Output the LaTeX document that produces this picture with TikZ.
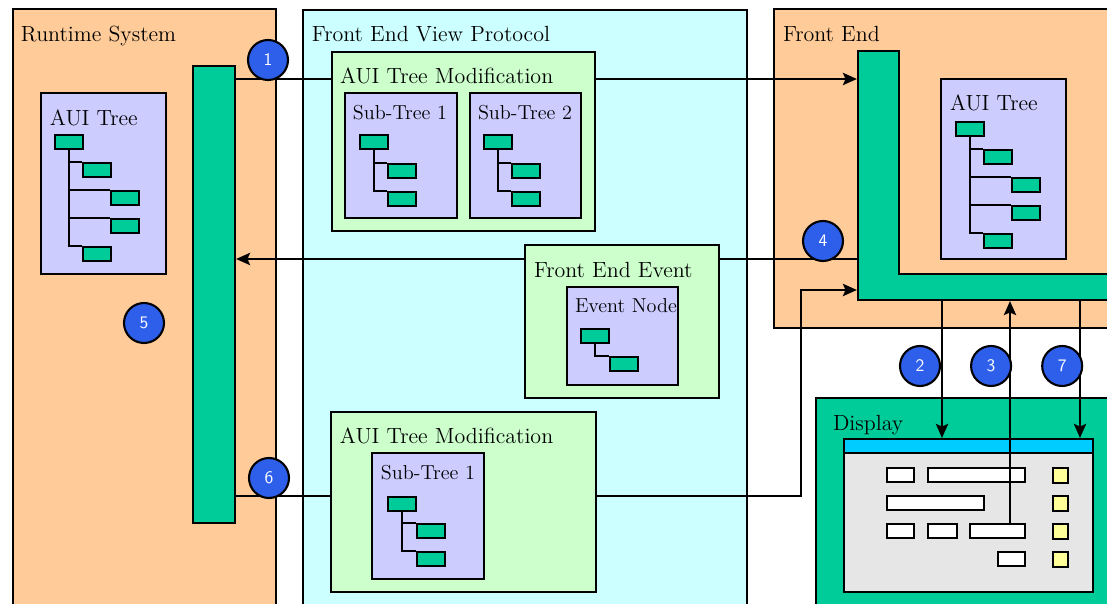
\documentclass[tikz,border=0pt]{standalone}
\usepackage{tikz}
\usetikzlibrary{calc}
\usetikzlibrary{positioning}
\usetikzlibrary{fit}
\usetikzlibrary{arrows.meta}

\definecolor{peach}{RGB}{255,204,153}
\definecolor{protocyan}{RGB}{204,255,255}
\definecolor{modgreen}{RGB}{204,255,204}
\definecolor{lavender}{RGB}{204,204,255}
\definecolor{busgreen}{RGB}{0,204,153}
\definecolor{badgeblue}{RGB}{45,95,235}
\definecolor{titlecyan}{RGB}{0,204,255}
\definecolor{wingray}{RGB}{230,230,230}
\definecolor{lightyellow}{RGB}{255,255,153}

\def\thickness{very thick}
\def\px{0.02cm}
\tikzset{
panel/.style={draw, inner sep=0pt, fill=#1},
title/.style={inner sep=0pt, font=\fontsize{12.5}{14}\selectfont},
subtitle/.style={inner sep=0pt, font=\fontsize{11.5}{13}\selectfont},
leaf/.style={draw, fill=busgreen, inner sep=0pt, anchor=north west,
	minimum width=0.56cm, minimum height=0.28cm},
widget/.style={draw, fill=white, inner sep=0pt, anchor=north west,
	minimum height=0.28cm, minimum width=#1*\px},
badge/.style={circle, draw, fill=badgeblue, inner sep=0pt, minimum size=0.8cm,
	text=white, font=\sffamily\fontsize{10}{12}\selectfont},
>={Stealth[length=8pt,width=7pt,inset=1.5pt]},
}

% #1 name, #2 root corner, #3 child offsets
\newcommand{\auitree}[3]{
	\node[leaf] (#1) at #2 {};
	\foreach \dx/\dy [count=\leafno] in {#3} {
		\node[leaf] (#1-\leafno) at ($#2+(\dx,\dy)$) {};
		\draw (#1.south) |- (#1-\leafno.north west);
	}
}

\begin{document}
\begin{tikzpicture}[x=\px, y=-\px, \thickness]
\useasboundingbox (0,0) rectangle (1107,604);
\clip (0,0) rectangle (1107,604);

%
\node[panel=peach, fit={(13,9) (276,620)}] (rts) {};
\node[panel=protocyan, fit={(303,10) (747,620)}] (fevp) {};
\node[panel=peach, fit={(774,9) (1120,328)}] (fe) {};
\node[panel=busgreen, fit={(816,398) (1120,620)}] (disp) {};

\node[title, below right=0.34cm and 0.16cm of rts.north west] {Runtime System};
\node[title, below right=0.32cm and 0.18cm of fevp.north west] {Front End View Protocol};
\node[title, below right=0.34cm and 0.18cm of fe.north west] {Front End};
\node[title, below right=0.34cm and 0.34cm of disp.north west] {Display};

%
\node[panel=busgreen, fit={(193,66) (235,523)}] (rbar) {};
\node[inner sep=0pt, fit={(858,51) (899,300)}] (fev) {};
\node[inner sep=0pt, fit={(858,274) (1120,300)}] (feh) {};
\draw[fill=busgreen] (858,51) -- (899,51) -- (899,274) -- (1120,274)
	-- (1120,300) -- (858,300) -- cycle;

%
\node[panel=lavender, fit={(41,93) (166,274)}] (treeL) {};
\node[title, below right=0.34cm and 0.18cm of treeL.north west] {AUI Tree};
\auitree{lt}{(54,134)}{28/28, 56/56, 56/84, 28/112}

\node[panel=lavender, fit={(941,79) (1066,259)}] (treeR) {};
\node[title, below right=0.32cm and 0.18cm of treeR.north west] {AUI Tree};
\auitree{rt}{(955,121)}{28/28, 56/56, 56/84, 28/112}

%
\node[panel=modgreen, fit={(332,52) (595,231)}] (modA) {};
\node[title, below right=0.32cm and 0.16cm of modA.north west] {AUI Tree Modification};
\node[panel=lavender, fit={(345,93) (457,218)}] (subA) {};
\node[subtitle, below right=0.25cm and 0.16cm of subA.north west] {Sub-Tree 1};
\auitree{sa}{(359,134)}{28/29, 28/57}
\node[panel=lavender, fit={(470,93) (581,218)}] (subB) {};
\node[subtitle, below right=0.25cm and 0.16cm of subB.north west] {Sub-Tree 2};
\auitree{sb}{(483,134)}{28/29, 28/57}

\node[panel=modgreen, fit={(525,245) (719,398)}] (event) {};
\node[title, below right=0.34cm and 0.18cm of event.north west] {Front End Event};
\node[panel=lavender, fit={(567,287) (678,385)}] (evnode) {};
\node[subtitle, below right=0.23cm and 0.16cm of evnode.north west] {Event Node};
\auitree{ev}{(580,328)}{29/28}

\node[panel=modgreen, fit={(331,412) (596,592)}] (modB) {};
\node[title, below right=0.32cm and 0.18cm of modB.north west] {AUI Tree Modification};
\node[panel=lavender, fit={(372,453) (484,579)}] (subC) {};
\node[subtitle, below right=0.25cm and 0.18cm of subC.north west] {Sub-Tree 1};
\auitree{sc}{(387,496)}{29/27, 29/55}

%
\node[panel=wingray, fit={(844,439) (1093,592)}] (win) {};
\node[panel=titlecyan, fit={(844,439) (1093,453)}] (winbar) {};
\foreach \x/\y/\w [count=\i] in {886/467/27, 927/467/97, 886/495/97,
	886/523/27, 927/523/29, 969/523/55, 997/551/27}
	\node[widget=\w] (w\i) at (\x,\y) {};
\foreach \y [count=\i] in {467,495,523,551}
	\node[widget=15, fill=lightyellow, minimum height=0.3cm] (y\i) at (1052,\y) {};

%
\coordinate (lvA) at (0,79);
\coordinate (lvB) at (0,259);
\coordinate (lvC) at (0,496);
\coordinate (bend) at (801,290);
\coordinate (c2) at (942,0);
\coordinate (c3) at (1010,0);
\coordinate (c7) at (1080,0);

\draw (rbar.east |- lvA) -- (modA.west |- lvA);
\draw[->] (modA.east |- lvA) -- (fev.west |- lvA);
\draw (fev.west |- lvB) -- (event.east |- lvB);
\draw[->] (event.west |- lvB) -- (rbar.east |- lvB);
\draw (rbar.east |- lvC) -- (modB.west |- lvC);
\draw[->] (modB.east |- lvC) -| (bend) -- (fev.west |- bend);
\draw[->] (feh.south -| c2) -- (win.north -| c2);
\draw[->] (w6.north -| c3) -- (feh.south -| c3);
\draw[->] (feh.south -| c7) -- (win.north -| c7);

%
\node[badge] (b1) at (268,60) {1};
\node[badge] (b4) at (823,241) {4};
\node[badge] (b5) at (144,323) {5};
\node[badge] (b6) at (269,478) {6};
\node[badge] (b2) at (920,366) {2};
\node[badge, right=0.58cm of b2] (b3) {3};
\node[badge, right=0.58cm of b3] (b7) {7};
\end{tikzpicture}
\end{document}
